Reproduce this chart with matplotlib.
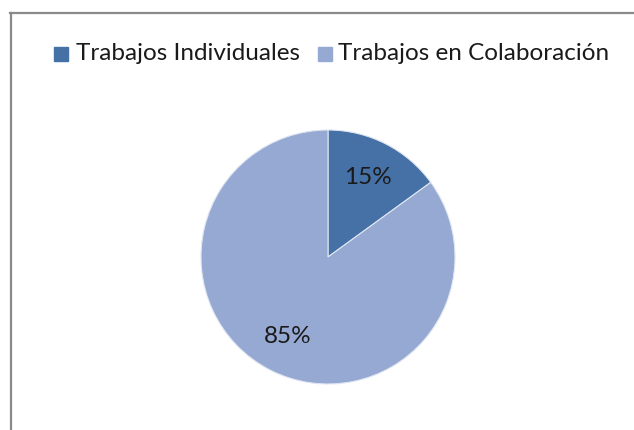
import matplotlib
matplotlib.use("Agg")
import matplotlib.pyplot as plt
from matplotlib.patches import Rectangle
from matplotlib.lines import Line2D

categories = ["Trabajos Individuales", "Trabajos en Colaboración"]
values = [15, 85]
colors = ["#4671A6", "#96A9D3"]

W, H = 634, 430
fig = plt.figure(figsize=(W / 100, H / 100), dpi=100)
fig.patch.set_facecolor("white")
plt.rcParams["font.family"] = ["Lato", "DejaVu Sans"]

def fx(px):
    return px / W

def fy(py):
    return 1 - py / H

# outer frame (only left & top visible)
fig.add_artist(Line2D([fx(10.5), fx(10.5)], [fy(13), fy(440)], color="#8a8a8a", lw=1.6,
                      transform=fig.transFigure))
fig.add_artist(Line2D([fx(10), fx(640)], [fy(13), fy(13)], color="#8a8a8a", lw=1.6,
                      transform=fig.transFigure))

# pie
cx, cy, r = 328, 257, 127
ax = fig.add_axes([fx(cx - r), fy(cy + r), 2 * r / W, 2 * r / H])
ax.pie(values, colors=colors, startangle=90, counterclock=False,
       autopct=lambda p: f"{p:.0f}%", pctdistance=0.70,
       wedgeprops=dict(linewidth=0.8, edgecolor="#dfe6f2"),
       textprops=dict(fontsize=17.5, color="#1a1a1a"))
ax.set_xlim(-1, 1)
ax.set_ylim(-1, 1)
ax.set_aspect("equal")
ax.axis("off")

# legend
leg_items = [(54, 76), (318, 338)]
for (mx, tx), lab, col in zip(leg_items, categories, colors):
    fig.add_artist(Rectangle((fx(mx), fy(61)), 14 / W, 14 / H, color=col,
                             transform=fig.transFigure))
    fig.text(fx(tx), fy(54), lab, fontsize=17.5, color="#1a1a1a", va="center", ha="left")

fig.savefig("out.png", dpi=100, facecolor="white")
